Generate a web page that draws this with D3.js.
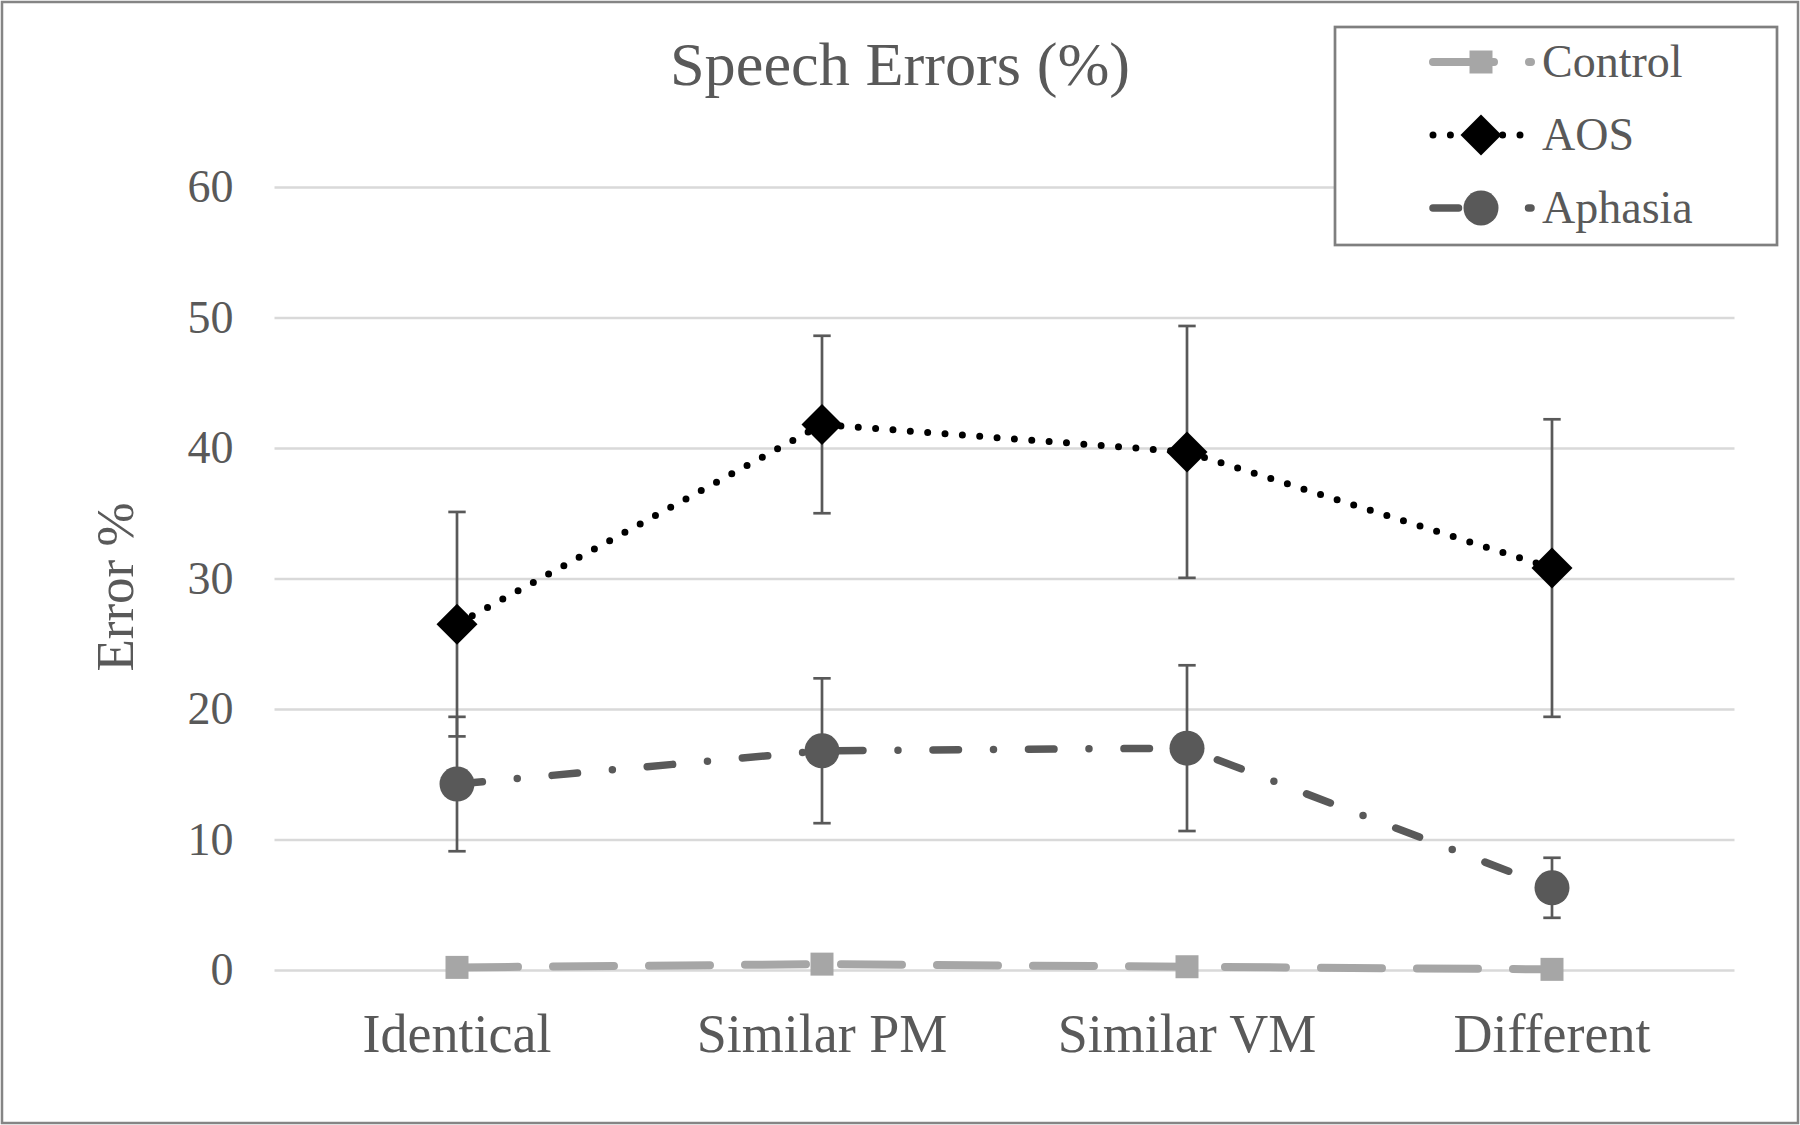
<!DOCTYPE html>
<html>
<head>
<meta charset="utf-8">
<script src="https://cdn.jsdelivr.net/npm/d3@7/dist/d3.min.js"></script>
<style>
  html, body { margin: 0; padding: 0; background: #fff; }
  svg { display: block; }
  text { font-family: "Liberation Serif", "Times New Roman", serif; fill: #595959; }
</style>
</head>
<body>
<svg id="chart" width="1800" height="1125"></svg>
<script>
// ---- data ----
const categories = ["Identical", "Similar PM", "Similar VM", "Different"];
const controlValues = [0.2, 0.45, 0.25, 0.05];
const aosValues = [26.5, 41.8, 39.7, 30.8];
const aosErrors = [8.6, 6.8, 9.65, 11.4];
const aphasiaValues = [14.25, 16.8, 17.0, 6.3];
const aphasiaErrors = [5.15, 5.55, 6.35, 2.3];
const yTickValues = [0, 10, 20, 30, 40, 50, 60];
const seriesNames = ["Control", "AOS", "Aphasia"];
const titleText = "Speech Errors (%)";
const yAxisTitle = "Error %";

// ---- layout ----
const W = 1800, H = 1125;
const plotLeft = 274.5, plotRight = 1734.5, plotTop = 187, plotBottom = 970;

const svg = d3.select("#chart");

// outer border
svg.append("rect").attr("x", 2).attr("y", 2).attr("width", W - 4).attr("height", H - 4)
  .attr("fill", "#fff").attr("stroke", "#858585").attr("stroke-width", 2.5);

const x = d3.scaleBand().domain(categories).range([plotLeft, plotRight]).padding(0);
const cx = d => x(d) + x.bandwidth() / 2;
const y = d3.scaleLinear().domain([0, 60]).range([plotBottom, plotTop]);

// gridlines + y labels
const yAxis = d3.axisLeft(y).tickValues(yTickValues).tickSize(-(plotRight - plotLeft)).tickPadding(41);
const gy = svg.append("g").attr("transform", `translate(${plotLeft},0)`).call(yAxis);
gy.select(".domain").remove();
gy.selectAll(".tick line").attr("stroke", "#d9d9d9").attr("stroke-width", 2.5);
gy.selectAll(".tick text").attr("font-size", 46).attr("fill", "#595959")
  .style("font-family", '"Liberation Serif", serif');

// x labels
const xAxis = d3.axisBottom(x).tickSize(0).tickPadding(0);
const gx = svg.append("g").attr("transform", `translate(0,${plotBottom})`).call(xAxis);
gx.select(".domain").remove();
gx.selectAll(".tick text").attr("font-size", 54).attr("fill", "#595959")
  .attr("dy", null).attr("y", 82)
  .style("font-family", '"Liberation Serif", serif');

// title
svg.append("text").attr("x", 900).attr("y", 85).attr("text-anchor", "middle")
  .attr("font-size", 62.3).text(titleText);

// y axis title
svg.append("text").attr("transform", "translate(133,587) rotate(-90)")
  .attr("text-anchor", "middle").attr("font-size", 53).text(yAxisTitle);

// series styles
const styles = {
  Control: { color: "#a6a6a6", width: 8, dash: "61 35", marker: "square" },
  AOS: { color: "#000000", width: 7, dash: "0 17.4", marker: "diamond" },
  Aphasia: { color: "#595959", width: 7.5, dash: "25.5 35 0 35", marker: "circle" }
};

function markerPath(type) {
  if (type === "square") return d3.symbol().type(d3.symbolSquare).size(23 * 23)();
  if (type === "circle") return d3.symbol().type(d3.symbolCircle).size(Math.PI * 17.5 * 17.5)();
  // diamond: square rotated 45deg
  return d3.symbol().type(d3.symbolSquare).size(29 * 29)();
}

const line = d3.line().x((d, i) => cx(categories[i])).y(d => y(d));

const seriesData = [
  { name: "Control", values: controlValues, errors: null },
  { name: "AOS", values: aosValues, errors: aosErrors },
  { name: "Aphasia", values: aphasiaValues, errors: aphasiaErrors }
];

seriesData.forEach(s => {
  const st = styles[s.name];
  const g = svg.append("g");
  g.append("path").attr("d", line(s.values)).attr("fill", "none")
    .attr("stroke", st.color).attr("stroke-width", st.width)
    .attr("stroke-dasharray", st.dash).attr("stroke-linecap", "round");
  if (s.errors) {
    const eb = g.selectAll(".eb").data(s.values).enter().append("g");
    eb.append("line")
      .attr("x1", (d, i) => cx(categories[i])).attr("x2", (d, i) => cx(categories[i]))
      .attr("y1", (d, i) => y(d + s.errors[i])).attr("y2", (d, i) => y(d - s.errors[i]))
      .attr("stroke", "#595959").attr("stroke-width", 2.7);
    [1, -1].forEach(sign => {
      eb.append("line")
        .attr("x1", (d, i) => cx(categories[i]) - 8.7).attr("x2", (d, i) => cx(categories[i]) + 8.7)
        .attr("y1", (d, i) => y(d + sign * s.errors[i])).attr("y2", (d, i) => y(d + sign * s.errors[i]))
        .attr("stroke", "#595959").attr("stroke-width", 2.7);
    });
  }
  g.selectAll(".mk").data(s.values).enter().append("path")
    .attr("d", markerPath(st.marker))
    .attr("transform", (d, i) => `translate(${cx(categories[i])},${y(d)})` + (st.marker === "diamond" ? " rotate(45)" : ""))
    .attr("fill", st.color);
});

// legend
const lg = svg.append("g");
lg.append("rect").attr("x", 1335).attr("y", 27).attr("width", 442).attr("height", 218)
  .attr("fill", "#fff").attr("stroke", "#7f7f7f").attr("stroke-width", 2.7);
const legendY = [62, 135, 208];
seriesNames.forEach((name, k) => {
  const st = styles[name];
  const ly = legendY[k];
  lg.append("path").attr("d", `M1433,${ly}L1531,${ly}`).attr("fill", "none")
    .attr("stroke", st.color).attr("stroke-width", st.width)
    .attr("stroke-dasharray", st.dash).attr("stroke-linecap", "round");
  lg.append("path").attr("d", markerPath(st.marker))
    .attr("transform", `translate(1481,${ly})` + (st.marker === "diamond" ? " rotate(45)" : ""))
    .attr("fill", st.color);
  lg.append("text").attr("x", 1542).attr("y", ly).attr("dy", "0.33em")
    .attr("font-size", 46).text(name);
});
</script>
</body>
</html>
